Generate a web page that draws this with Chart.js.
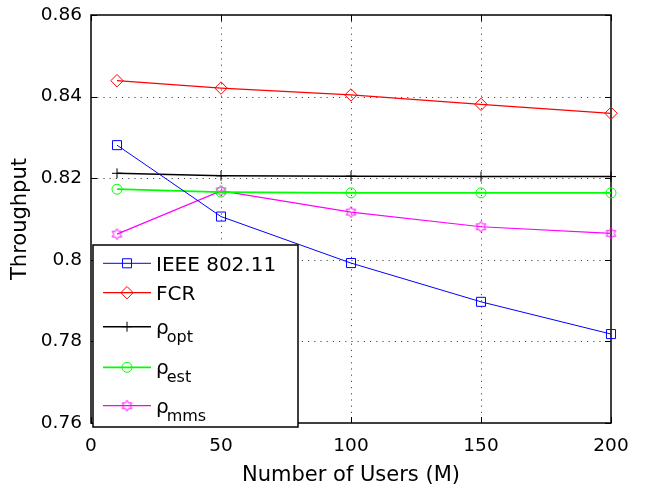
<!DOCTYPE html>
<html>
<head>
<meta charset="utf-8">
<script src="https://cdn.jsdelivr.net/npm/chart.js@4/dist/chart.umd.min.js"></script>
<style>
  html, body { margin: 0; padding: 0; background: #ffffff; }
  #c { display: block; }
</style>
</head>
<body>
<canvas id="c" width="646" height="495"></canvas>
<script>
// Throughput versus number of users for each access scheme
const users = [10, 50, 100, 150, 200];
const ieee80211 = [0.8281, 0.8106, 0.7992, 0.7897, 0.7818];
const fcr = [0.8439, 0.8421, 0.8404, 0.8381, 0.8359];
const rhoOpt = [0.8212, 0.8206, 0.8205, 0.8204, 0.8204];
const rhoEst = [0.8173, 0.8166, 0.8164, 0.8164, 0.8164];
const rhoMms = [0.8063, 0.8169, 0.8117, 0.8081, 0.8065];

const xTicks = [0, 50, 100, 150, 200];
const yTicks = [0.76, 0.78, 0.8, 0.82, 0.84, 0.86];
const xTickLabels = ['0', '50', '100', '150', '200'];
const yTickLabels = ['0.76', '0.78', '0.8', '0.82', '0.84', '0.86'];

const FONT = "'DejaVu Sans', 'Liberation Sans', sans-serif";

// Outline of a six-pointed star used as a marker
function hexagram(color, R) {
  const size = Math.ceil(R * 2 + 4);
  const cv = document.createElement('canvas');
  cv.width = size; cv.height = size;
  const g = cv.getContext('2d');
  const c = size / 2, r = R / Math.sqrt(3);
  g.beginPath();
  for (let i = 0; i < 12; i++) {
    const a = -Math.PI / 2 + i * Math.PI / 6;
    const rr = i % 2 === 0 ? R : r;
    const px = c + rr * Math.cos(a), py = c + rr * Math.sin(a);
    if (i === 0) g.moveTo(px, py); else g.lineTo(px, py);
  }
  g.closePath();
  g.strokeStyle = color;
  g.lineWidth = 1;
  g.stroke();
  return cv;
}
const starMarker = hexagram('#ff00ff', 5.5);

function series(label, parts, data, color, style, radius, width) {
  return {
    label: label,
    legendParts: parts,
    data: data.map((v, k) => ({ x: users[k], y: v })),
    borderColor: color,
    backgroundColor: color,
    borderWidth: width,
    pointStyle: style,
    pointRadius: radius,
    pointHoverRadius: radius,
    pointBorderColor: color,
    pointBackgroundColor: 'rgba(0,0,0,0)',
    pointBorderWidth: 1,
    tension: 0,
    clip: false
  };
}

// Dotted grid, inward tick marks and the box around the plot
const framePlugin = {
  id: 'frame',
  beforeDatasetsDraw(chart) {
    const { ctx, chartArea: a, scales: { x, y } } = chart;
    ctx.save();
    ctx.strokeStyle = 'rgba(0,0,0,0.7)';
    ctx.lineWidth = 1;
    ctx.setLineDash([1.2, 5]);
    xTicks.forEach(v => {
      const px = Math.round(x.getPixelForValue(v)) + 0.5;
      if (px - a.left < 2 || a.right - px < 2) return;
      ctx.beginPath(); ctx.moveTo(px, a.top); ctx.lineTo(px, a.bottom); ctx.stroke();
    });
    yTicks.forEach(v => {
      const py = Math.round(y.getPixelForValue(v)) + 0.5;
      if (py - a.top < 2 || a.bottom - py < 2) return;
      ctx.beginPath(); ctx.moveTo(a.left, py); ctx.lineTo(a.right, py); ctx.stroke();
    });
    ctx.setLineDash([]);
    ctx.strokeStyle = '#000';
    ctx.lineWidth = 1;
    const t = 6;
    xTicks.forEach(v => {
      const px = Math.round(x.getPixelForValue(v)) + 0.5;
      ctx.beginPath();
      ctx.moveTo(px, a.bottom); ctx.lineTo(px, a.bottom - t);
      ctx.moveTo(px, a.top); ctx.lineTo(px, a.top + t);
      ctx.stroke();
    });
    yTicks.forEach(v => {
      const py = Math.round(y.getPixelForValue(v)) + 0.5;
      ctx.beginPath();
      ctx.moveTo(a.left, py); ctx.lineTo(a.left + t, py);
      ctx.moveTo(a.right, py); ctx.lineTo(a.right - t, py);
      ctx.stroke();
    });
    ctx.lineWidth = 1.5;
    ctx.strokeRect(a.left, a.top, a.right - a.left, a.bottom - a.top);
    ctx.restore();
  }
};

// Boxed legend in the lower-left corner with subscripted labels
const boxLegendPlugin = {
  id: 'boxLegend',
  afterDraw(chart) {
    const { ctx, chartArea: a } = chart;
    const box = { left: a.left + 2, top: 245, right: 298, bottom: 427 };
    const rows = [263.3, 292.7, 326.7, 367.3, 405.7];
    ctx.save();
    ctx.fillStyle = '#fff';
    ctx.fillRect(box.left, box.top, box.right - box.left, box.bottom - box.top);
    ctx.strokeStyle = '#000';
    ctx.lineWidth = 1.5;
    ctx.strokeRect(box.left, box.top, box.right - box.left, box.bottom - box.top);
    chart.data.datasets.forEach((ds, i) => {
      const yc = rows[i];
      const x0 = box.left + 10, x1 = box.left + 58, xm = box.left + 34;
      ctx.strokeStyle = ds.borderColor;
      ctx.lineWidth = ds.borderWidth;
      ctx.beginPath(); ctx.moveTo(x0, yc); ctx.lineTo(x1, yc); ctx.stroke();
      ctx.lineWidth = 1;
      ctx.fillStyle = 'rgba(0,0,0,0)';
      Chart.helpers.drawPoint(ctx, {
        pointStyle: ds.pointStyle, radius: ds.pointRadius, borderWidth: 1, rotation: 0
      }, xm, yc);
      const tx = box.left + 63;
      ctx.fillStyle = '#000';
      ctx.textAlign = 'left';
      ctx.textBaseline = 'alphabetic';
      const [main, sub] = ds.legendParts;
      if (!sub) {
        ctx.font = '20px ' + FONT;
        ctx.fillText(main, tx, yc + 7.5);
      } else {
        ctx.font = '20px ' + FONT;
        ctx.fillText(main, tx, yc + 7);
        const w = ctx.measureText(main).width;
        ctx.font = '16px ' + FONT;
        ctx.fillText(sub, tx + w - 2, yc + 15);
      }
    });
    ctx.restore();
  }
};

new Chart(document.getElementById('c'), {
  type: 'line',
  data: {
    labels: users,
    datasets: [
      series('IEEE 802.11', ['IEEE 802.11', ''], ieee80211, '#0000ff', 'rect', 6.4, 1),
      series('FCR', ['FCR', ''], fcr, '#ff0000', 'rectRot', 6.2, 1.2),
      series('ρopt', ['ρ', 'opt'], rhoOpt, '#000000', 'cross', 5, 1.5),
      series('ρest', ['ρ', 'est'], rhoEst, '#00ff00', 'circle', 5, 1.8),
      series('ρmms', ['ρ', 'mms'], rhoMms, '#ff00ff', starMarker, 5.5, 1.2)
    ]
  },
  options: {
    responsive: false,
    devicePixelRatio: 1,
    animation: false,
    events: [],
    layout: { padding: { top: 15, right: 35, bottom: 0, left: 0 } },
    plugins: { legend: { display: false }, tooltip: { enabled: false } },
    scales: {
      x: {
        type: 'linear',
        min: 0, max: 200,
        afterBuildTicks(s) { s.ticks = xTicks.map(v => ({ value: v })); },
        afterFit(s) { s.height = 72; s.paddingLeft = 0; s.paddingRight = 0; },
        grid: { display: false, drawTicks: false },
        border: { display: false },
        ticks: {
          padding: 12,
          color: '#000',
          font: { family: FONT, size: 18.5 },
          maxRotation: 0,
          callback: (v) => xTickLabels[xTicks.indexOf(v)]
        },
        title: {
          display: true,
          text: 'Number of Users (M)',
          color: '#000',
          font: { family: FONT, size: 21 },
          padding: { top: 2, bottom: 7 }
        }
      },
      y: {
        type: 'linear',
        min: 0.76, max: 0.86,
        afterBuildTicks(s) { s.ticks = yTicks.map(v => ({ value: v })); },
        afterFit(s) { s.width = 91; s.paddingTop = 0; s.paddingBottom = 0; },
        grid: { display: false, drawTicks: false },
        border: { display: false },
        ticks: {
          padding: 9,
          color: '#000',
          font: { family: FONT, size: 18.5 },
          callback: (v) => yTickLabels[yTicks.findIndex(t => Math.abs(t - v) < 1e-9)]
        },
        title: {
          display: true,
          text: 'Throughput',
          color: '#000',
          font: { family: FONT, size: 21 },
          padding: { top: 8, bottom: 0 }
        }
      }
    }
  },
  plugins: [framePlugin, boxLegendPlugin]
});
</script>
</body>
</html>
